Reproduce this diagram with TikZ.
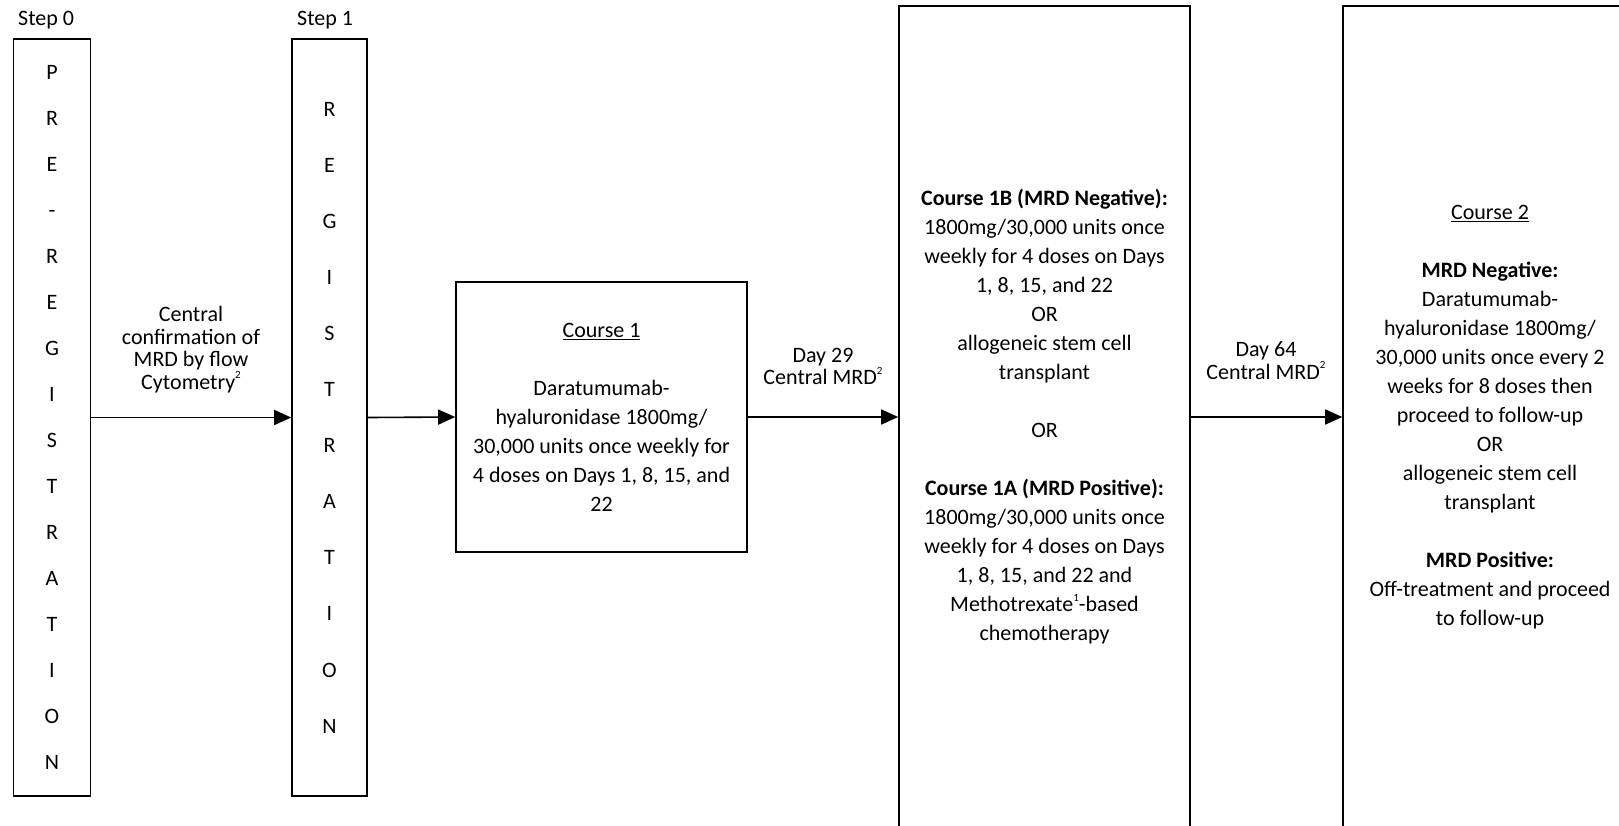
\documentclass[tikz,border=0pt]{standalone}
\usepackage{fontspec}
\setmainfont{Carlito}
\usetikzlibrary{arrows.meta}
\newcommand\mysup[1]{\raisebox{1.0ex}{\fontsize{11}{11}\selectfont #1}}
\begin{document}
\begin{tikzpicture}[x=1pt,y=-1pt,
  box/.style={draw, line width=1.6pt, inner sep=0pt, align=center, font=\fontsize{22}{29}\selectfont},
  vboxa/.style={box, minimum width=77pt, minimum height=757pt, font=\fontsize{22}{46}\selectfont},
  vboxb/.style={box, minimum width=75pt, minimum height=757pt, font=\fontsize{22}{56.1}\selectfont},
  lbl/.style={align=center, inner sep=0pt, font=\fontsize{22}{22.5}\selectfont},
  steplbl/.style={anchor=west, inner sep=0pt, font=\fontsize{22}{26}\selectfont},
  arr/.style={line width=1.6pt, -{Triangle[length=17pt,width=15pt]}}]
\useasboundingbox (0,0) rectangle (1619,825);
\clip (0,0) rectangle (1619,825);

\node[steplbl] (s0) at (18,20) {Step 0};
\node[steplbl] (s1) at (297,20) {Step 1};

\node[vboxa] (b0) at (52,417.5) {P\\R\\E\\-\\R\\E\\G\\I\\S\\T\\R\\A\\T\\I\\O\\N};
\node[vboxb] (b1) at (329.5,417.5) {R\\E\\G\\I\\S\\T\\R\\A\\T\\I\\O\\N};

\node[box, minimum width=291pt, minimum height=270pt] (c1) at (601.5,417)
  {\underline{Course 1}\\[29pt]
   Daratumumab-\\hyaluronidase 1800mg/\\30,000 units once weekly for\\4 doses on Days 1, 8, 15, and\\22};

\node[box, minimum width=291pt, minimum height=822pt] (c1ab) at (1044.5,417)
  {\textbf{Course 1B (MRD Negative):}\\
   1800mg/30,000 units once\\weekly for 4 doses on Days\\1, 8, 15, and 22\\OR\\
   allogeneic stem cell\\transplant\\[29pt]
   OR\\[29pt]
   \textbf{Course 1A (MRD Positive):}\\
   1800mg/30,000 units once\\weekly for 4 doses on Days\\1, 8, 15, and 22 and\\
   Methotrexate\mysup{1}-based\\chemotherapy};

\node[box, minimum width=294pt, minimum height=822pt] (c2) at (1490,417)
  {\underline{Course 2}\\[29pt]
   \textbf{MRD Negative:}\\
   Daratumumab-\\hyaluronidase 1800mg/\\30,000 units once every 2\\weeks for 8 doses then\\proceed to follow-up\\OR\\
   allogeneic stem cell\\transplant\\[29pt]
   \textbf{MRD Positive:}\\
   Off-treatment and proceed\\to follow-up};

\draw[arr] (b0.east) -- (b1.west);
\draw[arr] (b1.east) -- (c1.west);
\draw[arr] (c1.east) -- (c1ab.west);
\draw[arr] (c1ab.east) -- (c2.west);

\node[lbl] (l1) at (191,349.5) {Central\\confirmation of\\MRD by flow\\Cytometry\mysup{2}};
\node[lbl] (l2) at (823,366.5) {Day 29\\Central MRD\mysup{2}};
\node[lbl] (l3) at (1266,360.5) {Day 64\\Central MRD\mysup{2}};
\end{tikzpicture}
\end{document}
